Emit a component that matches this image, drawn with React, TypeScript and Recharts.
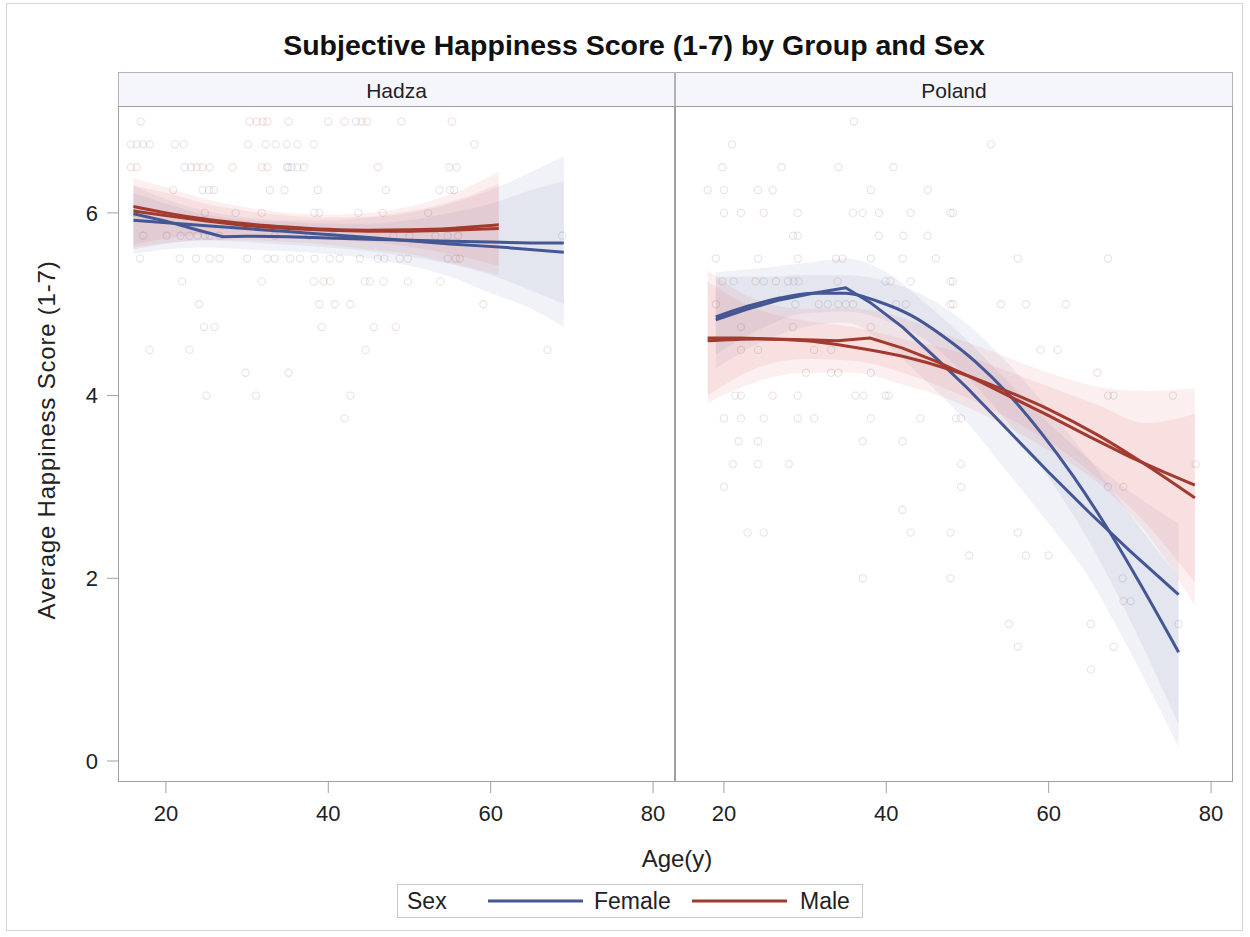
import React from 'react';
import { ComposedChart, Line, Area, Scatter, XAxis, YAxis } from 'recharts';

const FONT = "'Liberation Sans', Arial, Helvetica, sans-serif";
const FEMALE = '#445694';
const MALE = '#A23A2E';
const FEMALE_BAND = '#445694';
const MALE_BAND = '#e04848';

const title = 'Subjective Happiness Score (1-7) by Group and Sex';
const panels = ['Hadza', 'Poland'];
const sexes = ['Female', 'Male'];
const xTicks = [20, 40, 60, 80];
const yTicks = [0, 2, 4, 6];
const xDomain: [number, number] = [14.1, 82.7];
const yDomain: [number, number] = [-0.23, 7.17];

// scatter: [score, ages[]]
const hadzaFemaleRows: [number, number[]][] = [
  [7, [16.9, 40.0, 43.4, 49.0]],
  [6.75, [16.4, 18.0, 22.2, 32.3, 34.9, 38.2]],
  [6.5, [22.3, 23.1, 35.1, 35.5, 36.2, 55.8]],
  [6.25, [24.5, 25.3, 32.8, 38.7, 47.1, 55.0]],
  [6, [16.1, 28.6, 38.9, 43.7]],
  [5.75, [17.2, 21.8, 23.9, 25.4, 33.4, 40.5, 48.0, 54.7, 68.8]],
  [5.5, [16.8, 21.7, 25.4, 30.0, 33.4, 36.5, 40.2, 43.9, 46.9, 48.8, 54.7]],
  [5.25, [22.0, 38.2, 45.1, 46.8]],
  [5, [24.1, 40.8]],
  [4.75, [24.7, 39.2, 45.6]],
  [4.5, [22.9, 44.6, 67.0]],
  [4.25, [29.8]],
  [4, [25.0, 42.7]],
  [3.75, [42.0]],
];
const hadzaMaleRows: [number, number[]][] = [
  [7, [30.3, 31.2, 31.9, 32.5, 35.1, 42.0, 44.1, 44.8, 55.2]],
  [6.75, [15.7, 17.2, 21.1, 30.1, 33.5, 36.2, 58.0]],
  [6.5, [15.7, 16.4, 23.8, 24.5, 25.4, 28.2, 31.8, 32.5, 34.9, 37.0, 46.1, 54.9]],
  [6.25, [20.9, 25.9, 34.6, 53.7, 55.5]],
  [6, [24.8, 31.8, 38.3, 46.7, 52.3]],
  [5.75, [20.1, 22.9, 24.8, 26.6, 37.7, 50.0, 53.2, 56.0]],
  [5.5, [23.7, 26.6, 32.5, 35.3, 38.3, 41.4, 46.1, 49.8, 55.7, 56.2]],
  [5.25, [31.8, 39.4, 40.2, 44.5, 49.8, 53.8]],
  [5, [38.9, 42.7, 59.1]],
  [4.75, [26.0, 48.3]],
  [4.5, [18.0]],
  [4.25, [35.1]],
  [4, [31.1]],
];
const polandFemaleRows: [number, number[]][] = [
  [7, [36.0]],
  [6.75, [21.0]],
  [6.5, [19.8, 34.1]],
  [6.25, [20.0, 26.0, 45.1]],
  [6, [22.1, 29.1, 37.1, 43.0, 48.2]],
  [5.75, [28.5, 42.1]],
  [5.5, [24.2, 33.8, 38.1, 46.1, 67.3]],
  [5.25, [21.2, 24.9, 27.9, 29.2, 39.9, 43.0, 48.2]],
  [5, [28.8, 32.8, 35.0, 41.2, 47.9, 57.2]],
  [4.75, [28.5]],
  [4.5, [24.2, 33.2, 59.0]],
  [4.25, [33.2, 38.1]],
  [4, [22.1, 29.1, 37.2, 40.3, 68.0]],
  [3.75, [22.1, 29.1, 38.1, 48.6]],
  [3.5, [24.2, 42.0]],
  [3.25, [21.1, 49.2]],
  [3, [20.0, 67.3]],
  [2.75, [42.0]],
  [2.5, [24.9, 47.9]],
  [2.25, [57.2]],
  [2, [37.1, 69.1]],
  [1.75, [70.1]],
  [1.5, [55.1, 76.0]],
  [1.25, [56.2, 68.0]],
  [1, [65.2]],
];
const polandMaleRows: [number, number[]][] = [
  [6.75, [52.9]],
  [6.5, [27.1, 40.9]],
  [6.25, [18.0, 24.2, 38.1]],
  [6, [20.0, 24.9, 35.9, 39.1, 47.9]],
  [5.75, [29.1, 39.1, 45.1]],
  [5.5, [19.0, 29.1, 34.6, 42.0, 56.2]],
  [5.25, [19.8, 23.9, 26.4, 28.6, 34.0, 40.5, 47.9]],
  [5, [19.0, 31.7, 34.1, 35.9, 42.4, 48.2, 54.1, 62.1]],
  [4.75, [22.1, 38.1]],
  [4.5, [22.1, 31.1, 61.1]],
  [4.25, [30.1, 34.1, 66.0]],
  [4, [21.4, 26.0, 36.2, 39.9, 67.3, 75.3]],
  [3.75, [20.0, 24.9, 31.1, 44.2, 49.2]],
  [3.5, [21.8, 37.1]],
  [3.25, [24.2, 28.0, 78.1]],
  [3, [49.2, 69.2]],
  [2.5, [22.9, 43.0, 56.2]],
  [2.25, [50.2, 60.0]],
  [2, [47.9]],
  [1.75, [69.2]],
  [1.5, [65.2]],
];

// fitted curves: [age, score]
const hadzaFemaleFit: [number, number][] = [[16, 5.92], [25, 5.86], [35, 5.795], [45, 5.73], [55, 5.66], [62, 5.62], [69, 5.57]];
const hadzaFemaleLoess: [number, number][] = [[16, 5.99], [20, 5.91], [24, 5.81], [27, 5.74], [30, 5.745], [35, 5.74], [40, 5.725], [45, 5.71], [50, 5.7], [55, 5.69], [60, 5.68], [65, 5.67], [69, 5.67]];
const hadzaMaleFit: [number, number][] = [[16, 6.07], [20, 6.0], [25, 5.93], [30, 5.88], [35, 5.845], [40, 5.82], [45, 5.81], [50, 5.815], [55, 5.83], [61, 5.87]];
const hadzaMaleLoess: [number, number][] = [[16, 6.02], [20, 5.97], [25, 5.91], [30, 5.86], [35, 5.83], [40, 5.81], [45, 5.8], [50, 5.8], [55, 5.81], [61, 5.83]];
const polandFemaleFit: [number, number][] = [[19, 4.86], [23, 4.98], [27, 5.07], [31, 5.12], [35, 5.12], [39, 5.03], [43, 4.88], [47, 4.65], [51, 4.37], [55, 4.02], [59, 3.6], [63, 3.12], [67, 2.58], [71, 1.98], [76, 1.19]];
const polandFemaleLoess: [number, number][] = [[19, 4.83], [23, 4.95], [27, 5.05], [31, 5.12], [35, 5.18], [38, 5.02], [42, 4.75], [46, 4.42], [50, 4.08], [55, 3.62], [60, 3.16], [65, 2.72], [70, 2.3], [76, 1.82]];
const polandMaleFit: [number, number][] = [[18, 4.6], [24, 4.62], [30, 4.6], [36, 4.53], [42, 4.43], [48, 4.28], [54, 4.08], [60, 3.85], [66, 3.57], [72, 3.24], [78, 2.88]];
const polandMaleLoess: [number, number][] = [[18, 4.63], [22, 4.63], [26, 4.62], [30, 4.61], [34, 4.6], [38, 4.63], [42, 4.52], [46, 4.38], [50, 4.22], [55, 4.0], [60, 3.78], [65, 3.55], [70, 3.33], [74, 3.17], [78, 3.02]];

// confidence bands: [age, lower, upper]
const hadzaFemaleBandA: [number, number, number][] = [[16, 5.62, 6.22], [20, 5.67, 6.1], [25, 5.7, 5.98], [30, 5.68, 5.92], [35, 5.65, 5.9], [40, 5.62, 5.88], [45, 5.58, 5.88], [50, 5.52, 5.92], [55, 5.44, 6.0], [60, 5.32, 6.1], [65, 5.15, 6.25], [69, 5.0, 6.35]];
const hadzaFemaleBandB: [number, number, number][] = [[16, 5.55, 6.3], [20, 5.6, 6.15], [25, 5.62, 6.02], [30, 5.6, 5.95], [35, 5.58, 5.92], [40, 5.55, 5.92], [45, 5.5, 5.95], [50, 5.42, 6.0], [55, 5.3, 6.1], [60, 5.12, 6.25], [65, 4.95, 6.45], [69, 4.75, 6.62]];
const hadzaMaleBandA: [number, number, number][] = [[16, 5.65, 6.3], [20, 5.72, 6.22], [25, 5.76, 6.1], [30, 5.76, 6.02], [35, 5.74, 5.97], [40, 5.71, 5.95], [45, 5.68, 5.96], [50, 5.63, 6.02], [55, 5.55, 6.12], [61, 5.42, 6.32]];
const hadzaMaleBandB: [number, number, number][] = [[16, 5.6, 6.38], [20, 5.66, 6.28], [25, 5.7, 6.15], [30, 5.7, 6.06], [35, 5.68, 6.0], [40, 5.65, 5.98], [45, 5.6, 6.0], [50, 5.55, 6.07], [55, 5.45, 6.2], [61, 5.32, 6.45]];
const polandFemaleBandA: [number, number, number][] = [[19, 4.45, 5.3], [25, 4.75, 5.3], [30, 4.9, 5.32], [35, 4.92, 5.32], [40, 4.82, 5.25], [45, 4.6, 5.08], [50, 4.2, 4.78], [55, 3.7, 4.35], [60, 3.1, 3.85], [65, 2.4, 3.3], [70, 1.55, 2.7], [76, 0.4, 2.0]];
const polandFemaleBandB: [number, number, number][] = [[19, 4.3, 5.35], [25, 4.6, 5.4], [30, 4.75, 5.45], [35, 4.8, 5.5], [40, 4.55, 5.35], [45, 4.15, 5.0], [50, 3.7, 4.6], [55, 3.15, 4.15], [60, 2.6, 3.7], [65, 2.0, 3.3], [70, 1.2, 2.95], [76, 0.15, 2.6]];
const polandMaleBandA: [number, number, number][] = [[18, 4.0, 5.25], [24, 4.3, 4.95], [30, 4.4, 4.82], [36, 4.38, 4.75], [42, 4.25, 4.62], [48, 4.05, 4.5], [54, 3.8, 4.3], [60, 3.5, 4.1], [66, 3.1, 3.9], [72, 2.6, 3.7], [78, 1.95, 3.8]];
const polandMaleBandB: [number, number, number][] = [[18, 3.92, 5.37], [24, 4.15, 5.05], [30, 4.25, 4.95], [36, 4.25, 4.95], [42, 4.12, 4.85], [48, 3.95, 4.65], [54, 3.7, 4.45], [60, 3.4, 4.25], [66, 3.05, 4.1], [72, 2.5, 4.05], [78, 1.7, 4.08]];

const toPts = (rows: [number, number[]][]) => rows.flatMap(([y, xs]) => xs.map((x) => ({ x, y })));
const toLine = (arr: [number, number][]) => arr.map(([x, y]) => ({ x, y }));
const toBand = (arr: [number, number, number][]) => arr.map(([x, lo, hi]) => ({ x, r: [lo, hi] }));

const ring = (color: string) => (props: any) => {
  if (props.cx == null || props.cy == null) return <g />;
  return <circle cx={props.cx} cy={props.cy} r={3.6} fill="none" stroke={color} strokeOpacity={0.16} strokeWidth={1.1} />;
};

type PanelProps = {
  showY: boolean;
  width: number;
  femalePts: { x: number; y: number }[];
  malePts: { x: number; y: number }[];
  femaleBands: any[][];
  maleBands: any[][];
  femaleLines: { data: any[]; type: 'linear' | 'monotone' }[];
  maleLines: { data: any[]; type: 'linear' | 'monotone' }[];
};

function Panel(p: PanelProps) {
  return (
    <ComposedChart width={p.width} height={736} margin={{ top: 0, right: 0, bottom: 0, left: 0 }}>
      <XAxis
        type="number"
        dataKey="x"
        domain={xDomain}
        ticks={xTicks}
        interval={0}
        allowDataOverflow
        height={60}
        tickSize={11}
        tickMargin={12}
        axisLine={false}
        tickLine={{ stroke: '#a0a0a0' }}
        tick={{ fill: '#222', fontSize: 22, fontFamily: FONT }}
      />
      <YAxis
        type="number"
        dataKey="y"
        domain={yDomain}
        ticks={yTicks}
        interval={0}
        allowDataOverflow
        hide={!p.showY}
        width={118}
        tickSize={11}
        tickMargin={9}
        axisLine={false}
        tickLine={{ stroke: '#a0a0a0' }}
        tick={{ fill: '#222', fontSize: 22, fontFamily: FONT }}
      />
      {p.femaleBands.map((b, i) => (
        <Area key={'fb' + i} data={b} dataKey="r" type="monotone" stroke="none" fill={FEMALE_BAND} fillOpacity={0.075} isAnimationActive={false} dot={false} activeDot={false} />
      ))}
      {p.maleBands.map((b, i) => (
        <Area key={'mb' + i} data={b} dataKey="r" type="monotone" stroke="none" fill={MALE_BAND} fillOpacity={0.085} isAnimationActive={false} dot={false} activeDot={false} />
      ))}
      <Scatter data={p.femalePts} dataKey="y" shape={ring(FEMALE)} isAnimationActive={false} />
      <Scatter data={p.malePts} dataKey="y" shape={ring(MALE)} isAnimationActive={false} />
      {p.femaleLines.map((l, i) => (
        <Line key={'fl' + i} data={l.data} dataKey="y" type={l.type} stroke={FEMALE} strokeWidth={3} dot={false} activeDot={false} isAnimationActive={false} />
      ))}
      {p.maleLines.map((l, i) => (
        <Line key={'ml' + i} data={l.data} dataKey="y" type={l.type} stroke={MALE} strokeWidth={3} dot={false} activeDot={false} isAnimationActive={false} />
      ))}
    </ComposedChart>
  );
}

export default function App() {
  const boxTop = 106;
  const boxH = 676;
  return (
    <div style={{ position: 'absolute', left: 0, top: 0, width: 1250, height: 937, background: '#fff', fontFamily: FONT, overflow: 'hidden' }}>
      <div style={{ position: 'absolute', left: 0, top: boxTop }}>
        <Panel
          showY
          width={675}
          femalePts={toPts(hadzaFemaleRows)}
          malePts={toPts(hadzaMaleRows)}
          femaleBands={[toBand(hadzaFemaleBandB), toBand(hadzaFemaleBandA)]}
          maleBands={[toBand(hadzaMaleBandB), toBand(hadzaMaleBandA)]}
          femaleLines={[{ data: toLine(hadzaFemaleLoess), type: 'linear' }, { data: toLine(hadzaFemaleFit), type: 'monotone' }]}
          maleLines={[{ data: toLine(hadzaMaleLoess), type: 'linear' }, { data: toLine(hadzaMaleFit), type: 'monotone' }]}
        />
      </div>
      <div style={{ position: 'absolute', left: 676, top: boxTop }}>
        <Panel
          showY={false}
          width={557}
          femalePts={toPts(polandFemaleRows)}
          malePts={toPts(polandMaleRows)}
          femaleBands={[toBand(polandFemaleBandB), toBand(polandFemaleBandA)]}
          maleBands={[toBand(polandMaleBandB), toBand(polandMaleBandA)]}
          femaleLines={[{ data: toLine(polandFemaleLoess), type: 'linear' }, { data: toLine(polandFemaleFit), type: 'monotone' }]}
          maleLines={[{ data: toLine(polandMaleLoess), type: 'linear' }, { data: toLine(polandMaleFit), type: 'monotone' }]}
        />
      </div>
      <svg width={1250} height={937} style={{ position: 'absolute', left: 0, top: 0, pointerEvents: 'none' }}>
        <rect x={6.5} y={3.5} width={1236} height={927} fill="none" stroke="#d4d4d4" />
        <text x={634} y={45} textAnchor="middle" dominantBaseline="central" fontSize={28.5} fontWeight="bold" fill="#111" fontFamily={FONT}>{title}</text>
        {/* headers */}
        <rect x={118.5} y={72.5} width={556} height={34} fill="#f5f6fb" stroke="#b4b4b4" />
        <rect x={675.5} y={72.5} width={557} height={34} fill="#f5f6fb" stroke="#b4b4b4" />
        <text x={396.5} y={90} textAnchor="middle" dominantBaseline="central" fontSize={21} fill="#222" fontFamily={FONT}>{panels[0]}</text>
        <text x={954} y={90} textAnchor="middle" dominantBaseline="central" fontSize={21} fill="#222" fontFamily={FONT}>{panels[1]}</text>
        {/* panel boxes */}
        <rect x={118.5} y={boxTop + 0.5} width={556} height={boxH - 1} fill="none" stroke="#a0a0a0" />
        <rect x={675.5} y={boxTop + 0.5} width={557} height={boxH - 1} fill="none" stroke="#a0a0a0" />
        {/* axis labels */}
        <text transform="translate(46,440) rotate(-90)" textAnchor="middle" dominantBaseline="central" fontSize={24} letterSpacing={0.8} fill="#222" fontFamily={FONT}>Average Happiness Score (1-7)</text>
        <text x={677} y={858} textAnchor="middle" dominantBaseline="central" fontSize={24} fill="#222" fontFamily={FONT}>Age(y)</text>
        {/* legend */}
        <rect x={397.5} y={884.5} width={465} height={33} fill="#fff" stroke="#c8c8c8" />
        <text x={407} y={901} dominantBaseline="central" fontSize={23} fill="#222" fontFamily={FONT}>Sex</text>
        <line x1={488} x2={583} y1={901} y2={901} stroke={FEMALE} strokeWidth={3} />
        <text x={594} y={901} dominantBaseline="central" fontSize={23} fill="#222" fontFamily={FONT}>{sexes[0]}</text>
        <line x1={692} x2={787} y1={901} y2={901} stroke={MALE} strokeWidth={3} />
        <text x={800} y={901} dominantBaseline="central" fontSize={23} fill="#222" fontFamily={FONT}>{sexes[1]}</text>
      </svg>
    </div>
  );
}
